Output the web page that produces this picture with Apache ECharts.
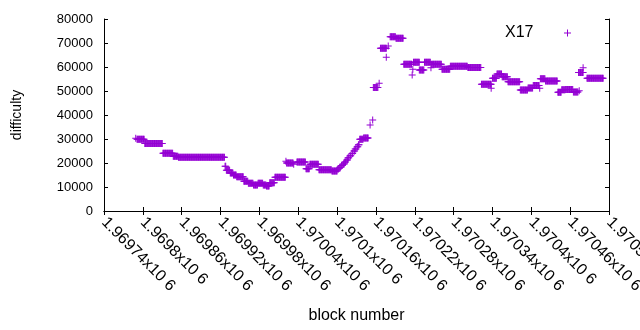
<!DOCTYPE html>
<html>
<head>
<meta charset="utf-8">
<script src="https://cdn.jsdelivr.net/npm/echarts@6/dist/echarts.min.js"></script>
<style>
  html, body { margin: 0; padding: 0; background: #fff; }
  #main { width: 640px; height: 330px; }
</style>
</head>
<body>
<div id="main"></div>
<script>
// difficulty runs: [first block, last block] -> difficulty
var runStart = [
  1969789, 1969791, 1969803, 1969831, 1969847, 1969855, 1969927, 1969929, 1969935, 1969940,
  1969945, 1969956, 1969963, 1969971, 1969978, 1969986, 1969991, 1969996, 1970004, 1970021,
  1970022, 1970033, 1970038, 1970052, 1970058, 1970072, 1970092, 1970101, 1970104, 1970107,
  1970110, 1970112, 1970115, 1970117, 1970120, 1970123, 1970126, 1970128, 1970131, 1970133,
  1970135, 1970141, 1970151, 1970155, 1970156, 1970165, 1970167, 1970176, 1970179, 1970182,
  1970191, 1970203, 1970216, 1970217, 1970218, 1970227, 1970235, 1970245, 1970246, 1970262,
  1970275, 1970302, 1970323, 1970338, 1970340, 1970347, 1970355, 1970364, 1970383, 1970395,
  1970403, 1970413, 1970414, 1970422, 1970441, 1970447, 1970453, 1970465, 1970474, 1970473,
  1970480, 1970486
];
var runEnd = [
  1969789, 1969802, 1969830, 1969846, 1969854, 1969926, 1969928, 1969934, 1969939, 1969944,
  1969955, 1969962, 1969970, 1969977, 1969985, 1969990, 1969995, 1970003, 1970020, 1970021,
  1970032, 1970033, 1970051, 1970057, 1970071, 1970091, 1970100, 1970102, 1970105, 1970108,
  1970111, 1970113, 1970116, 1970118, 1970121, 1970124, 1970127, 1970129, 1970132, 1970134,
  1970140, 1970148, 1970151, 1970155, 1970163, 1970165, 1970176, 1970176, 1970179, 1970190,
  1970202, 1970215, 1970216, 1970217, 1970227, 1970234, 1970244, 1970245, 1970261, 1970274,
  1970301, 1970322, 1970338, 1970338, 1970346, 1970354, 1970363, 1970382, 1970394, 1970402,
  1970412, 1970413, 1970421, 1970440, 1970446, 1970452, 1970464, 1970472, 1970474, 1970480,
  1970480, 1970511
];
var runDifficulty = [
  30300, 29900, 28170, 24040, 22790, 22380, 18630, 16960, 15830, 15000,
  14290, 12380, 11540, 10830, 11540, 10830, 10420, 11790, 14040, 20710,
  20000, 19460, 20420, 17580, 19500, 17210, 16670, 17500, 18200, 19000,
  19600, 20400, 21300, 22200, 23000, 24000, 25000, 25800, 26800, 27600,
  29900, 30400, 35830, 37920, 51460, 53210, 67790, 64040, 68750, 72630,
  71960, 61130, 56670, 59040, 62000, 58700, 62000, 59710, 61130, 59040,
  60290, 59790, 52800, 51130, 55290, 57080, 55960, 53880, 50420, 51250,
  52290, 51130, 55080, 54200, 49500, 50500, 50630, 49580, 50130, 57710,
  59710, 55290
];

var xMin = 1969740;
var xMax = 1970520;
var xStep = 60;
var yMin = 0;
var yMax = 80000;
var yStep = 10000;

// one point per block inside each run
var points = [];
for (var i = 0; i < runStart.length; i++) {
  for (var b = runStart[i]; b <= runEnd[i]; b++) {
    points.push([b, runDifficulty[i]]);
  }
}

var plus = 'path://M3,0H4V3H7V4H4V7H3V4H0V3H3Z';
var purple = '#9400d3';
var font = 'Liberation Sans, Arial, sans-serif';

var myChart = echarts.init(document.getElementById('main'));

var option = {
  animation: false,
  backgroundColor: '#fff',
  textStyle: { fontFamily: font, color: '#000' },
  grid: { left: 104, right: 31, top: 19, bottom: 119, containLabel: false, outerBoundsMode: 'none' },
  legend: {
    right: 64,
    top: 20,
    align: 'right',
    itemWidth: 58,
    itemHeight: 7,
    textStyle: { fontFamily: font, fontSize: 16, color: '#000' },
    data: [{ name: 'X17', icon: plus }]
  },
  xAxis: [
    {
      type: 'value',
      min: xMin,
      max: xMax,
      interval: xStep,
      name: 'block number',
      nameLocation: 'middle',
      nameGap: 97,
      nameTextStyle: { fontFamily: font, fontSize: 16, color: '#000' },
      axisLine: { lineStyle: { color: '#000', width: 1 } },
      axisTick: { inside: true, length: 4, lineStyle: { color: '#000' } },
      splitLine: { show: false },
      axisLabel: {
        rotate: -45,
        margin: 9,
        showMinLabel: true,
        showMaxLabel: true,
        hideOverlap: false,
        fontFamily: font,
        fontSize: 16,
        color: '#000',
        formatter: function (v) {
          return parseFloat((v / 1e6).toFixed(5)) + 'x10 6';
        }
      }
    },
    {
      type: 'value',
      position: 'top',
      min: xMin,
      max: xMax,
      interval: xStep,
      axisLine: { lineStyle: { color: '#000', width: 1 } },
      axisTick: { inside: true, length: 4, lineStyle: { color: '#000' } },
      axisLabel: { show: false },
      splitLine: { show: false }
    }
  ],
  yAxis: [
    {
      type: 'value',
      min: yMin,
      max: yMax,
      interval: yStep,
      name: 'difficulty',
      nameLocation: 'middle',
      nameGap: 80,
      nameRotate: 90,
      nameTextStyle: { fontFamily: font, fontSize: 14, color: '#000' },
      axisLine: { show: true, lineStyle: { color: '#000', width: 1 } },
      axisTick: { show: true, inside: true, length: 4, lineStyle: { color: '#000' } },
      splitLine: { show: false },
      axisLabel: {
        margin: 11,
        fontFamily: font,
        fontSize: 13,
        color: '#000',
        formatter: function (v) { return String(v); }
      }
    },
    {
      type: 'value',
      position: 'right',
      min: yMin,
      max: yMax,
      interval: yStep,
      axisLine: { show: true, lineStyle: { color: '#000', width: 1 } },
      axisTick: { show: true, inside: true, length: 4, lineStyle: { color: '#000' } },
      axisLabel: { show: false },
      splitLine: { show: false }
    }
  ],
  series: [
    {
      name: 'X17',
      type: 'scatter',
      xAxisIndex: 0,
      yAxisIndex: 0,
      symbol: plus,
      symbolSize: 7,
      itemStyle: { color: purple, opacity: 1 },
      data: points
    }
  ]
};

myChart.setOption(option);
</script>
</body>
</html>
